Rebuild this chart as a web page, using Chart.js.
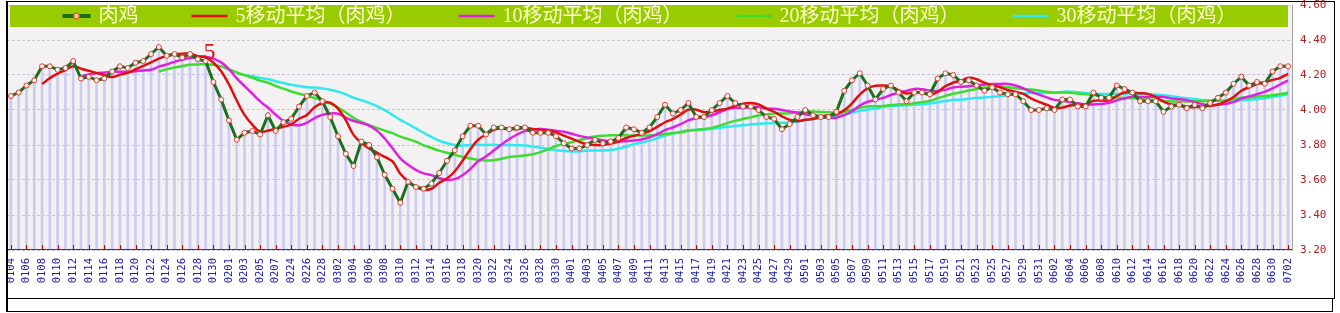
<!DOCTYPE html>
<html>
<head>
<meta charset="utf-8">
<script src="https://cdn.jsdelivr.net/npm/chart.js@4.4.1/dist/chart.umd.min.js"></script>
<style>
  html, body { margin: 0; padding: 0; background: #fff; }
  canvas { display: block; }
</style>
</head>
<body>
<canvas id="chart" width="1340" height="313"></canvas>
<script>
// dates (MMDD), one per trading day
const dates = [
  '0104','0105','0106','0107','0108','0109','0110','0111','0112','0113','0114','0115','0116','0117',
  '0118','0119','0120','0121','0122','0123','0124','0125','0126','0127','0128','0129','0130','0131',
  '0201','0202','0203','0204','0205','0206','0207','0208',
  '0224','0225','0226','0227','0228',
  '0301','0302','0303','0304','0305','0306','0307','0308','0309','0310','0311','0312','0313','0314','0315','0316',
  '0317','0318','0319','0320','0321','0322','0323','0324','0325','0326','0327','0328','0329','0330','0331',
  '0401','0402','0403','0404','0405','0406','0407','0408','0409','0410','0411','0412','0413','0414','0415',
  '0416','0417','0418','0419','0420','0421','0422','0423','0424','0425','0426','0427','0428','0429','0430',
  '0501','0502','0503','0504','0505','0506','0507','0508','0509','0510','0511','0512','0513','0514','0515','0516',
  '0517','0518','0519','0520','0521','0522','0523','0524','0525','0526','0527','0528','0529','0530','0531',
  '0601','0602','0603','0604','0605','0606','0607','0608','0609','0610','0611','0612','0613','0614','0615',
  '0616','0617','0618','0619','0620','0621','0622','0623','0624','0625','0626','0627','0628','0629','0630',
  '0701','0702'
];

// 肉鸡 price
const price = [
  4.08,4.10,4.14,4.17,4.25,4.25,4.23,4.24,4.28,4.18,
  4.19,4.17,4.18,4.22,4.25,4.24,4.27,4.28,4.32,4.36,
  4.31,4.32,4.30,4.32,4.29,4.28,4.16,4.06,3.94,3.83,
  3.87,3.88,3.86,3.97,3.88,3.93,3.95,4.02,4.08,4.10,
  4.05,3.96,3.85,3.75,3.68,3.82,3.80,3.73,3.63,3.55,
  3.47,3.59,3.56,3.55,3.58,3.64,3.71,3.77,3.85,3.91,
  3.91,3.86,3.90,3.90,3.89,3.90,3.90,3.87,3.87,3.87,
  3.85,3.81,3.78,3.78,3.80,3.83,3.81,3.82,3.84,3.90,
  3.89,3.87,3.90,3.96,4.03,3.98,4.00,4.04,3.96,3.96,
  4.00,4.04,4.08,4.04,4.02,4.02,4.00,3.96,3.95,3.89,
  3.92,3.96,4.00,3.97,3.96,3.96,3.99,4.11,4.17,4.21,
  4.14,4.06,4.12,4.14,4.10,4.05,4.10,4.10,4.09,4.18,
  4.21,4.20,4.16,4.17,4.14,4.11,4.13,4.10,4.09,4.09,
  4.05,4.00,4.00,4.01,4.00,4.06,4.06,4.02,4.02,4.10,
  4.07,4.07,4.14,4.12,4.10,4.05,4.05,4.05,3.99,4.02,
  4.03,4.01,4.03,4.01,4.04,4.07,4.10,4.15,4.19,4.14,
  4.16,4.15,4.22,4.25,4.25
];

// 5移动平均
const ma5 = [
  null,null,null,null,
  4.148,4.182,4.208,4.228,4.250,4.236,4.224,4.212,4.200,4.188,
  4.202,4.212,4.232,4.252,4.272,4.294,4.308,4.318,4.322,4.322,
  4.308,4.302,4.270,4.222,4.146,4.054,3.972,3.916,3.876,3.882,
  3.892,3.904,3.918,3.950,3.972,4.016,4.040,4.042,4.008,3.942,
  3.858,3.812,3.780,3.756,3.732,3.706,3.636,3.594,3.560,3.544,
  3.550,3.584,3.608,3.650,3.710,3.776,3.830,3.860,3.886,3.896,
  3.892,3.890,3.898,3.892,3.886,3.882,3.872,3.854,3.836,3.818,
  3.804,3.800,3.800,3.808,3.820,3.840,3.852,3.864,3.880,3.904,
  3.930,3.948,3.974,4.002,4.002,3.988,3.992,4.000,4.008,4.024,
  4.036,4.040,4.032,4.008,3.990,3.964,3.944,3.936,3.944,3.948,
  3.962,3.970,3.976,3.998,4.038,4.088,4.124,4.138,4.140,4.134,
  4.112,4.094,4.102,4.098,4.088,4.104,4.136,4.156,4.168,4.184,
  4.176,4.156,4.142,4.130,4.114,4.104,4.092,4.066,4.046,4.030,
  4.012,4.014,4.026,4.030,4.032,4.052,4.054,4.056,4.080,4.100,
  4.100,4.096,4.092,4.074,4.048,4.032,4.028,4.020,4.016,4.020,
  4.024,4.032,4.050,4.074,4.110,4.130,4.148,4.158,4.172,4.184,
  4.206
];

// 10移动平均
const ma10 = [
  null,null,null,null,null,null,null,null,null,
  4.192,
  4.203,4.210,4.214,4.219,4.219,4.218,4.222,4.226,4.230,4.248,
  4.260,4.275,4.287,4.297,4.301,4.305,4.294,4.272,4.234,4.181,
  4.137,4.093,4.049,4.014,3.973,3.938,3.917,3.913,3.927,3.954,
  3.972,3.980,3.979,3.957,3.937,3.926,3.911,3.882,3.837,3.782,
  3.724,3.687,3.658,3.638,3.628,3.610,3.601,3.605,3.627,3.663,
  3.707,3.734,3.768,3.803,3.834,3.860,3.879,3.889,3.891,3.887,
  3.881,3.876,3.864,3.852,3.843,3.836,3.827,3.822,3.819,3.822,
  3.826,3.832,3.844,3.862,3.885,3.900,3.919,3.941,3.953,3.959,
  3.970,3.987,4.005,4.013,4.012,4.016,4.016,4.008,4.007,4.000,
  3.992,3.984,3.976,3.969,3.963,3.957,3.956,3.971,3.993,4.025,
  4.047,4.057,4.069,4.086,4.100,4.109,4.120,4.119,4.111,4.108,
  4.115,4.129,4.133,4.136,4.140,4.146,4.149,4.149,4.149,4.140,
  4.124,4.104,4.088,4.072,4.058,4.053,4.046,4.038,4.031,4.032,
  4.034,4.041,4.055,4.066,4.076,4.075,4.074,4.077,4.074,4.066,
  4.062,4.056,4.045,4.034,4.028,4.030,4.035,4.045,4.065,4.077,
  4.090,4.104,4.123,4.147,4.168
];

// 20移动平均
const ma20 = [
  null,null,null,null,null,null,null,null,null,null,
  null,null,null,null,null,null,null,null,null,
  4.220,
  4.232,4.243,4.251,4.258,4.260,4.262,4.258,4.249,4.232,4.215,
  4.199,4.184,4.168,4.156,4.137,4.122,4.106,4.093,4.081,4.068,
  4.055,4.037,4.014,3.986,3.955,3.932,3.914,3.898,3.882,3.868,
  3.848,3.834,3.819,3.798,3.783,3.768,3.756,3.744,3.732,3.723,
  3.716,3.711,3.713,3.721,3.731,3.735,3.740,3.747,3.759,3.775,
  3.794,3.805,3.816,3.828,3.839,3.848,3.853,3.856,3.855,3.855,
  3.854,3.854,3.854,3.857,3.864,3.868,3.873,3.882,3.886,3.891,
  3.898,3.910,3.925,3.938,3.949,3.958,3.968,3.975,3.980,3.980,
  3.981,3.986,3.991,3.991,3.988,3.987,3.986,3.990,4.000,4.013,
  4.020,4.021,4.023,4.028,4.032,4.033,4.038,4.045,4.052,4.067,
  4.081,4.093,4.101,4.111,4.120,4.128,4.135,4.134,4.130,4.124,
  4.120,4.117,4.111,4.104,4.099,4.100,4.098,4.094,4.090,4.086,
  4.079,4.073,4.072,4.069,4.067,4.064,4.060,4.058,4.053,4.049,
  4.048,4.049,4.050,4.050,4.052,4.053,4.055,4.061,4.070,4.072,
  4.076,4.080,4.084,4.091,4.098
];

// 30移动平均
const ma30 = [
  null,null,null,null,null,null,null,null,null,null,
  null,null,null,null,null,null,null,null,null,null,
  null,null,null,null,null,null,null,null,null,
  4.207,
  4.200,4.193,4.183,4.177,4.164,4.154,4.144,4.137,4.130,4.128,
  4.123,4.116,4.105,4.089,4.070,4.056,4.041,4.022,3.999,3.972,
  3.944,3.920,3.895,3.870,3.846,3.825,3.810,3.800,3.797,3.800,
  3.801,3.800,3.802,3.799,3.800,3.799,3.797,3.792,3.785,3.777,
  3.771,3.766,3.763,3.764,3.768,3.769,3.769,3.772,3.779,3.791,
  3.805,3.814,3.825,3.839,3.854,3.865,3.875,3.884,3.888,3.889,
  3.892,3.898,3.904,3.909,3.913,3.917,3.921,3.924,3.926,3.927,
  3.929,3.934,3.942,3.948,3.953,3.958,3.964,3.973,3.984,3.995,
  4.003,4.009,4.017,4.023,4.025,4.027,4.031,4.033,4.037,4.044,
  4.051,4.057,4.059,4.064,4.068,4.071,4.075,4.080,4.084,4.091,
  4.095,4.097,4.097,4.098,4.099,4.103,4.105,4.102,4.097,4.093,
  4.091,4.091,4.092,4.091,4.091,4.091,4.090,4.088,4.085,4.079,
  4.073,4.067,4.063,4.057,4.054,4.053,4.052,4.053,4.057,4.058,
  4.062,4.067,4.074,4.082,4.091
];

const seriesNames = ['肉鸡', '5移动平均（肉鸡）', '10移动平均（肉鸡）', '20移动平均（肉鸡）', '30移动平均（肉鸡）'];
const markText = '5';
const markIndex = 25.5;
const markValue = 4.29;

// paper background + page white
const paperBg = {
  id: 'paperBg',
  beforeDraw(chart) {
    const {ctx, chartArea: a} = chart;
    ctx.save();
    ctx.fillStyle = '#ffffff';
    ctx.fillRect(0, 0, chart.width, chart.height);
    ctx.fillStyle = '#f3f1f1';
    ctx.fillRect(a.left, a.top, a.right - a.left, a.bottom - a.top);
    ctx.restore();
  }
};

// green legend band at top of plot
const legendBand = {
  id: 'legendBand',
  beforeDatasetsDraw(chart) {
    const {ctx, chartArea: a} = chart;
    const h = 22;
    ctx.save();
    ctx.fillStyle = '#99cc00';
    ctx.fillRect(a.left + 3, a.top, a.right - a.left - 7, h);

    ctx.font = '20px "Liberation Serif", "Noto Sans CJK SC"';
    const items = chart.data.datasets.filter(d => d.type === 'line');
    const gapIn = 8, gapOut = 53;
    const sampleLen = k => (k === 0 ? 28 : 36);
    const widths = items.map((d, k) => sampleLen(k) + gapIn + ctx.measureText(d.label).width);
    const total = widths.reduce((s, w) => s + w, 0) + gapOut * (items.length - 1);
    let x = (a.left + a.right) / 2 - total / 2;
    const cy = a.top + h / 2;
    items.forEach((d, k) => {
      const sample = sampleLen(k);
      ctx.strokeStyle = d.borderColor;
      ctx.lineWidth = k === 0 ? 4 : 2.5;
      ctx.beginPath();
      ctx.moveTo(x, cy);
      ctx.lineTo(x + sample, cy);
      ctx.stroke();
      if (k === 0) {
        ctx.beginPath();
        ctx.arc(x + sample / 2, cy, 3, 0, Math.PI * 2);
        ctx.fillStyle = '#ffcc66';
        ctx.fill();
        ctx.lineWidth = 1;
        ctx.strokeStyle = '#dd3333';
        ctx.stroke();
      }
      ctx.fillStyle = '#ffffcc';
      ctx.textBaseline = 'middle';
      ctx.textAlign = 'left';
      ctx.fillText(d.label, x + sample + gapIn, cy + 1);
      x += widths[k] + gapOut;
    });
    ctx.restore();
  }
};

// red category axis line with ticks pointing up, and the "5" mark
const axisMarks = {
  id: 'axisMarks',
  afterDatasetsDraw(chart) {
    const {ctx, chartArea: a, scales: {x, y}} = chart;
    ctx.save();
    ctx.strokeStyle = '#cc0000';
    ctx.lineWidth = 1;
    ctx.beginPath();
    ctx.moveTo(a.left, a.bottom - 0.5);
    ctx.lineTo(a.right, a.bottom - 0.5);
    for (let i = 0; i < dates.length; i += 2) {
      const px = Math.round(x.getPixelForValue(i)) + 0.5;
      ctx.moveTo(px, a.bottom);
      ctx.lineTo(px, a.bottom - 5);
    }
    ctx.stroke();

    ctx.font = '24px "Liberation Serif"';
    ctx.fillStyle = '#dd1111';
    ctx.textAlign = 'center';
    ctx.textBaseline = 'alphabetic';
    const mx = (x.getPixelForValue(Math.floor(markIndex)) + x.getPixelForValue(Math.ceil(markIndex))) / 2;
    ctx.fillText(markText, mx, y.getPixelForValue(markValue));
    ctx.restore();
  }
};

// outer frames
const frames = {
  id: 'frames',
  afterDraw(chart) {
    const {ctx} = chart;
    ctx.save();
    ctx.strokeStyle = '#000';
    ctx.lineWidth = 1;
    ctx.strokeRect(6.5, 1.5, 1328, 297);
    ctx.strokeRect(6.5, 298.5, 1326, 13);
    ctx.lineWidth = 2;
    ctx.beginPath();
    ctx.moveTo(7, 1);
    ctx.lineTo(7, 312);
    ctx.stroke();
    ctx.restore();
  }
};

const lineDs = (label, data, color) => ({
  type: 'line', label, data, borderColor: color, borderWidth: 2.5,
  pointRadius: 0, tension: 0.4, fill: false
});

new Chart(document.getElementById('chart'), {
  type: 'line',
  data: {
    labels: dates,
    datasets: [
      { type: 'line', label: seriesNames[0], data: price, borderColor: '#1b701b', borderWidth: 3,
        tension: 0, pointRadius: 2.5, pointBackgroundColor: '#fff6f0', pointBorderColor: '#e03a3a',
        pointBorderWidth: 1, fill: false },
      lineDs(seriesNames[1], ma5, '#e01010'),
      lineDs(seriesNames[2], ma10, '#e020e0'),
      lineDs(seriesNames[3], ma20, '#3ddc2e'),
      lineDs(seriesNames[4], ma30, '#30e8ee'),
      { type: 'bar', label: '', data: price, backgroundColor: '#cbcbf5', barThickness: 2 }
    ]
  },
  options: {
    responsive: false,
    devicePixelRatio: 1,
    animation: false,
    layout: { padding: { left: 7, top: 3, right: 0, bottom: 15 } },
    plugins: { legend: { display: false }, tooltip: { enabled: false } },
    scales: {
      x: {
        type: 'category',
        offset: true,
        grid: { display: false, drawTicks: false },
        border: { display: false },
        ticks: {
          autoSkip: false, minRotation: 90, maxRotation: 90, padding: 8,
          color: '#1c1ca0', font: { family: 'DejaVu Sans Mono', size: 10.5 },
          callback: (v, i) => (i % 2 === 0 ? dates[i] : '')
        },
        afterFit: s => { s.height = 48; s.paddingLeft = 0; s.paddingRight = 0; }
      },
      y: {
        position: 'right',
        min: 3.2, max: 4.6,
        ticks: {
          stepSize: 0.2, padding: 8, color: '#b02020',
          font: { family: 'DejaVu Sans Mono', size: 11 },
          callback: v => Number(v).toFixed(2)
        },
        grid: { color: '#c4c4dc', drawTicks: false },
        border: { display: true, color: '#a0a0a0', dash: [3, 2] },
        afterFit: s => { s.width = 48; s.paddingTop = 0; s.paddingBottom = 0; }
      }
    }
  },
  plugins: [paperBg, legendBand, axisMarks, frames]
});
</script>
</body>
</html>
